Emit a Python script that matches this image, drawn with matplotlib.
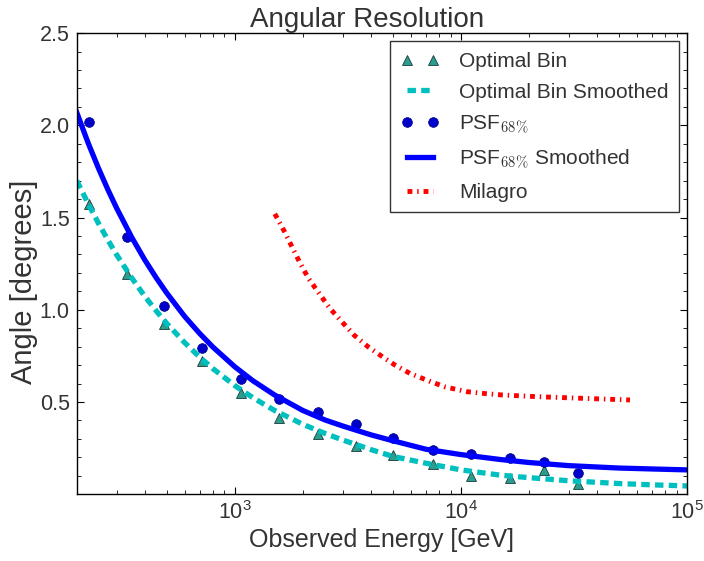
import matplotlib
matplotlib.use("Agg")
import matplotlib.pyplot as plt
from matplotlib.ticker import MultipleLocator, FixedLocator

plt.rcParams['font.family'] = ['Liberation Sans', 'DejaVu Sans']
plt.rcParams['mathtext.fontset'] = 'cm'

# Binned points (energy in GeV, angle in degrees)
bin_energy = [226, 332, 487, 719, 1063, 1567, 2328, 3451, 5016, 7534,
              11070, 16480, 23380, 32800]
optimal_bin = [1.572, 1.194, 0.923, 0.724, 0.551, 0.415, 0.327, 0.262,
               0.213, 0.164, 0.101, 0.090, 0.132, 0.056]
psf68 = [2.02, 1.393, 1.022, 0.791, 0.623, 0.517, 0.444, 0.380,
         0.303, 0.240, 0.218, 0.195, 0.173, 0.115]

# Smoothed curves
smooth_energy = [200, 225, 250, 275, 300, 350, 400, 450, 500, 600, 700, 800,
                 1000, 1200, 1500, 2000, 2500, 3000, 4000, 5000, 7000, 10000,
                 15000, 20000, 30000, 50000, 70000, 100000]
optimal_smooth = [1.70, 1.574, 1.467, 1.377, 1.299, 1.173, 1.073, 0.993,
                  0.926, 0.822, 0.743, 0.681, 0.589, 0.524, 0.454, 0.379,
                  0.330, 0.294, 0.242, 0.205, 0.168, 0.132, 0.103, 0.090,
                  0.073, 0.058, 0.051, 0.045]
psf_smooth = [2.07, 1.902, 1.765, 1.650, 1.552, 1.393, 1.270, 1.172, 1.091,
              0.964, 0.871, 0.798, 0.691, 0.616, 0.538, 0.454, 0.403, 0.370,
              0.322, 0.290, 0.244, 0.215, 0.188, 0.172, 0.155, 0.142, 0.137,
              0.132]

# Milagro curve
milagro_energy = [1503, 1648, 1940, 2125, 2632, 2975, 3365, 3878, 4500, 5110,
                  5950, 7290, 8500, 10630, 13000, 15300, 21700, 34600, 55900]
milagro = [1.52, 1.43, 1.255, 1.167, 1.008, 0.935, 0.863, 0.80, 0.745, 0.70,
           0.655, 0.612, 0.582, 0.556, 0.545, 0.538, 0.529, 0.520, 0.511]

fig = plt.figure(figsize=(7.04, 5.61), dpi=100)
ax = fig.add_axes([0.109, 0.119, 0.867, 0.822])

ax.plot(bin_energy, optimal_bin, linestyle='none', marker='^', color='#2a9d8f',
        mec='#1a3a3a', mew=0.6, ms=6.5, label='Optimal Bin')
ax.plot(smooth_energy, optimal_smooth, color='#00bfbf', lw=3.8,
        dashes=(1.6, 1.0), label='Optimal Bin Smoothed')
ax.plot(bin_energy, psf68, linestyle='none', marker='o', color='#0000cc',
        mec='#000080', mew=0.5, ms=7, label=r'PSF$_{68\%}$')
ax.plot(smooth_energy, psf_smooth, color='#0000ff', lw=3.8,
        label=r'PSF$_{68\%}$ Smoothed')
ax.plot(milagro_energy, milagro, color='#ff0000', lw=3.5,
        dashes=(1.0, 1.0, 0.3, 1.0), label='Milagro')

ax.set_xscale('log')
ax.set_xlim(200, 1e5)
ax.set_ylim(0, 2.5)
ax.yaxis.set_major_locator(FixedLocator([0.5, 1.0, 1.5, 2.0, 2.5]))
ax.yaxis.set_minor_locator(MultipleLocator(0.1))

txt = '#333333'
ax.tick_params(which='both', direction='in', top=True, right=True,
               labelsize=15.5, labelcolor=txt)
ax.tick_params(which='major', length=5, width=0.8, pad=5)
ax.tick_params(which='minor', length=3, width=0.6)
for s in ax.spines.values():
    s.set_linewidth(1.0)

ax.set_title('Angular Resolution', fontsize=20, pad=3, color=txt, x=0.475)
ax.set_xlabel('Observed Energy [GeV]', fontsize=18, labelpad=3, color=txt)
ax.set_ylabel('Angle [degrees]', fontsize=21, labelpad=2, color=txt)
ax.yaxis.set_label_coords(-0.064, 0.46)

leg = ax.legend(loc='upper right', numpoints=2, fontsize=15, fancybox=False,
                frameon=True, edgecolor='black', labelspacing=0.57,
                handlelength=1.85, handletextpad=0.95, borderpad=0.5,
                borderaxespad=0.4)
leg.get_frame().set_linewidth(1.0)
for t in leg.get_texts():
    t.set_color(txt)

fig.savefig('out.png', dpi=100)
